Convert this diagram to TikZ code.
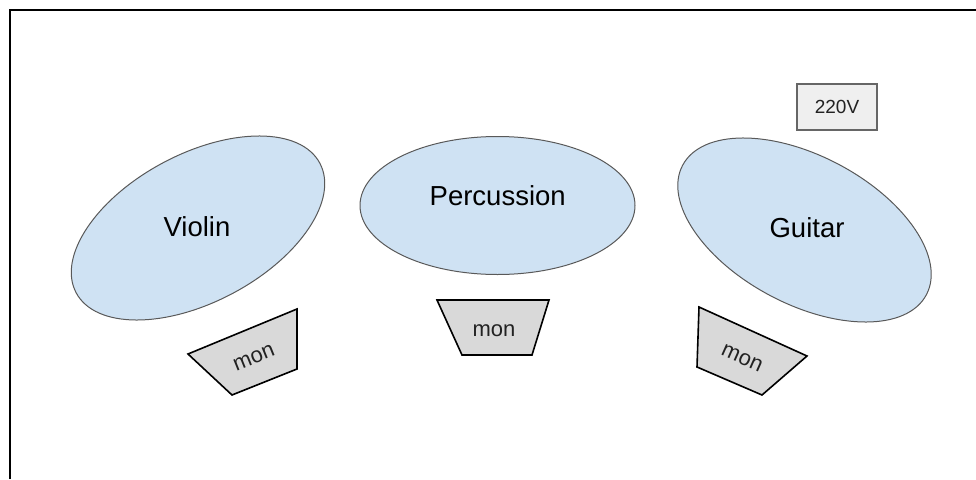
\documentclass[tikz,border=0pt]{standalone}
\usepackage{fontspec}
\setmainfont{Liberation Sans}
\usetikzlibrary{shapes.geometric}
\definecolor{ellfill}{HTML}{CFE2F3}
\definecolor{ellline}{HTML}{595959}
\definecolor{monfill}{HTML}{D9D9D9}
\definecolor{boxfill}{HTML}{EFEFEF}
\definecolor{boxline}{HTML}{666666}
\definecolor{txt}{HTML}{222222}
\tikzset{
  zone/.style={ellipse, draw=ellline, fill=ellfill, line width=1pt, inner sep=0pt, outer sep=0pt},
  zonetext/.style={text=black, font=\fontsize{27.5}{30}\selectfont, inner sep=0pt},
  monshape/.style={draw=black, fill=monfill, line width=1.6pt, line join=miter},
  montext/.style={text=txt, font=\fontsize{22}{24}\selectfont, inner sep=0pt},
  powerbox/.style={draw=boxline, fill=boxfill, line width=1.4pt, text=txt, font=\fontsize{19}{21}\selectfont, minimum width=80pt, minimum height=46pt, inner sep=0pt},
}
\begin{document}
\begin{tikzpicture}[x=1pt,y=-1pt]
\useasboundingbox (0,0) rectangle (976,479);
% frame
\draw[line width=2pt, black] (10,479) -- (10,9.5) -- (976,9.5);
% zones
\node[zone, minimum width=276pt, minimum height=148pt, rotate=28] (violinzone) at (198,228) {};
\node[zonetext] (violin) at (197,227) {Violin};
\node[zone, minimum width=275pt, minimum height=138pt] (percussionzone) at (497.5,205.5) {};
\node[zonetext] (percussion) at (497.7,196) {Percussion};
\node[zone, minimum width=276pt, minimum height=148pt, rotate=-28] (guitarzone) at (804.5,230) {};
\node[zonetext] (guitar) at (807,228) {Guitar};
% power
\node[powerbox] (power) at (837,107) {220V};
% monitors
\draw[monshape] (297,309) -- (297,369) -- (232,395) -- (188,354) -- cycle;
\node[montext, rotate=22] (monviolin) at (254,358) {mon};
\draw[monshape] (437,300) -- (549,300) -- (532,355) -- (462,355) -- cycle;
\node[montext] (monpercussion) at (494,331) {mon};
\draw[monshape] (699,307) -- (807,356) -- (762,395) -- (697,367) -- cycle;
\node[montext, rotate=-24] (monguitar) at (742,358) {mon};
\end{tikzpicture}
\end{document}
